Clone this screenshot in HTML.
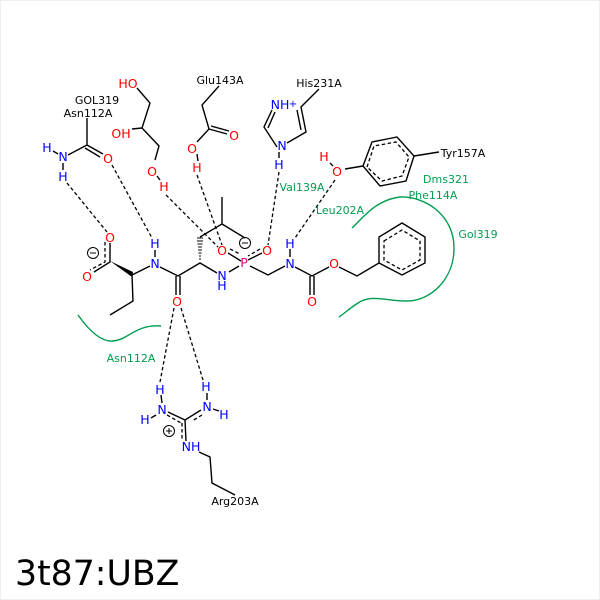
<!DOCTYPE html>
<html><head><meta charset="utf-8"><style>
html,body{margin:0;padding:0;background:#fff}
svg{display:block}
text{font-family:"DejaVu Sans",sans-serif}
.k{font-size:11px;fill:#000;text-anchor:middle}
.g{font-size:11px;fill:#009c50;text-anchor:middle}
.a{font-size:12.500px;text-anchor:middle}
.o{fill:#f00}.n{fill:#00f}.p{fill:#e6007e}
</style></head><body>
<svg width="600" height="600" viewBox="0 0 600 600" xmlns="http://www.w3.org/2000/svg">
<rect x="0.5" y="0.5" width="599" height="599" fill="#fff" stroke="#eee"/>
<g fill="none" stroke="#009c50" stroke-width="1.400">
<path d="M78 315C90 332 102 342 113 341C128 340 136 324 161 326"/>
<path d="M352 228C362 219 375 200 400 197C425 196 454 215 454 248C454 280 430 301 407 301C385 301 372 294 358 303C350 308 345 313 339 317"/>
</g>
<g fill="none" stroke="#000" stroke-width="1.400">
<path d="M87 118L87 145L68 155M87 145L103 154M85 148L100 157"/>
<path d="M137 88L150 103L142 128L159 146L155 160M142 128L132 129"/>
<path d="M219 86L202 105L209 129L197 142M209 129L227 134M211 126L229 131"/>
<path d="M319 89L301 107L306 132L287 143M277 147L264 127L272 110M268 128L275 112M297 110L301 130"/>
<path d="M363 166L372 142L397 137L414 156L406 181L380 186ZM414 156L439 152M363 166L345 169M330 163L333 166"/>
<path d="M379 237L402 223L425 237L425 263L402 275L379 263ZM339 267L357 276L379 263"/>
<path d="M132 275L133 301L110 315M132 275L150 266M160 267L178 276L200 263L217 273M155 250L155 257M176 276L176 295M180 276L180 295"/>
<path d="M200 237L222 224L222 197M222 224L245 238M229 272L239 266M250 266L268 275L285 266M295 267L312 276L329 267M290 249L290 257M310 276L310 295M314 276L314 295"/>
<path d="M63 163L63 170M53 151L58 154M197 154L198 161M157 176L160 180M279 152L279 158"/>
<path d="M161 395L162 403M151 418L156 415M207 393L207 400M213 409L219 411M168 412L185 420M201 410L185 420L186 441M199 452L210 457L212 483L235 495"/>
<path d="M110 243L110 262L94 272M228 253L241 261M262 253L248 260"/>
</g>
<polygon points="132,277 133,272 110,261" fill="#000"/>
<g stroke="#000" stroke-width="1" fill="none">
<path d="M197 238h6M197 241h6M197.500 244h5M198 247h4M198 250h4M198.500 253h3M199 256h2M199 259h2" />
</g>
<g fill="none" stroke="#000" stroke-width="1.300" stroke-dasharray="3.500 2.500">
<path d="M112 165L152 238M67 183L107 232M166 195L218 247M197 175L222 245M279 172L268 245M335 180L295 238M174 308L160 382M181 308L203 380"/>
<path d="M105 242L105 262L90 270M367 167L374 146L396 142L409 157L402 176L382 181ZM384 241L402 230L420 241L420 260L402 270L384 260Z"/>
<path d="M167 415L181 423M202 415L192 421M182 423L182 441M230 249L240 254M260 249L248 256"/>
</g>
<g class="a">
<text class="a n" x="47" y="152">H</text><text class="a n" x="63" y="161">N</text><text class="a n" x="63" y="181">H</text>
<text class="a o" x="108" y="163">O</text><text class="a o" x="128" y="88">HO</text><text class="a o" x="121" y="138">OH</text>
<text class="a o" x="152" y="176">O</text><text class="a o" x="164" y="191">H</text>
<text class="a o" x="234" y="140">O</text><text class="a o" x="192" y="153">O</text><text class="a o" x="197" y="172">H</text>
<text class="a n" x="280" y="109">NH</text><text x="293" y="107" font-size="10" fill="#00f" text-anchor="middle">+</text><text class="a n" x="282" y="150">N</text><text class="a n" x="279" y="169">H</text>
<text class="a o" x="324" y="161">H</text><text class="a o" x="337" y="176">O</text>
<text class="a o" x="110" y="242">O</text><text class="a o" x="87" y="281">O</text>
<text class="a n" x="155" y="248">H</text><text class="a n" x="155" y="268">N</text>
<text class="a o" x="177" y="306">O</text>
<text class="a n" x="222" y="280">N</text><text class="a n" x="222" y="290">H</text>
<text class="a p" x="244" y="267">P</text>
<text class="a o" x="222" y="255">O</text><text class="a o" x="267" y="255">O</text>
<text class="a n" x="290" y="248">H</text><text class="a n" x="290" y="268">N</text>
<text class="a o" x="334" y="268">O</text><text class="a o" x="312" y="306">O</text>
<text class="a n" x="160" y="394">H</text><text class="a n" x="162" y="414">N</text><text class="a n" x="145" y="424">H</text>
<text class="a n" x="206" y="391">H</text><text class="a n" x="207" y="411">N</text><text class="a n" x="224" y="419">H</text>
<text class="a n" x="191" y="451">NH</text>
</g>
<g fill="none" stroke="#000" stroke-width="1">
<circle cx="93" cy="253" r="5.500"/><path d="M90 253h6"/>
<circle cx="245" cy="243" r="5.500"/><path d="M242 243h6"/>
<circle cx="169" cy="431" r="5.500"/><path d="M166 431h6M169 428v6"/>
</g>
<text class="k" x="97" y="104">GOL319</text>
<text class="k" x="88" y="117">Asn112A</text>
<text class="k" x="220" y="84">Glu143A</text>
<text class="k" x="319" y="87">His231A</text>
<text class="k" x="463" y="157">Tyr157A</text>
<text class="k" x="235" y="505">Arg203A</text>
<text class="g" x="302" y="191">Val139A</text>
<text class="g" x="340" y="214">Leu202A</text>
<text class="g" x="446" y="183">Dms321</text>
<text class="g" x="433" y="199">Phe114A</text>
<text class="g" x="478" y="238">Gol319</text>
<text class="g" x="131" y="362">Asn112A</text>
<text x="15" y="585" font-size="34.700" fill="#000">3t87:UBZ</text>
</svg>
</body></html>
